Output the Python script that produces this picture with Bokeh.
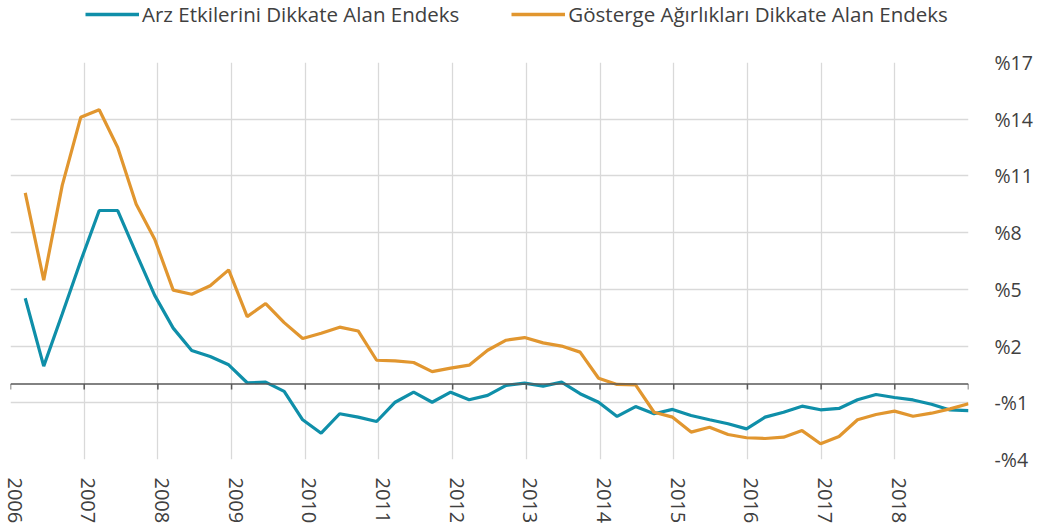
from bokeh.plotting import figure
from bokeh.models import (Legend, LegendItem, FixedTicker, Span, Range1d,
                          ColumnDataSource)
from bokeh.layouts import column
from bokeh.embed import file_html
from bokeh.resources import INLINE

# ---- data (quarterly, 2006Q1 .. 2018Q4) ----
quarters = [f"{y}Q{q}" for y in range(2006, 2019) for q in range(1, 5)]
arz = [4.53, 0.94, 3.70, 6.50, 9.17, 9.17, 6.90, 4.68,
       2.95, 1.77, 1.45, 1.01, 0.06, 0.09, -0.40, -1.90,
       -2.61, -1.58, -1.76, -1.99, -0.97, -0.44, -0.97, -0.44,
       -0.84, -0.61, -0.08, 0.04, -0.12, 0.09, -0.52, -0.97,
       -1.72, -1.20, -1.58, -1.35, -1.67, -1.90, -2.11, -2.38,
       -1.76, -1.50, -1.18, -1.37, -1.30, -0.84, -0.56, -0.72,
       -0.85, -1.08, -1.38, -1.41]
gosterge = [10.10, 5.49, 10.50, 14.10, 14.50, 12.50, 9.50, 7.65,
            4.96, 4.74, 5.19, 6.03, 3.56, 4.25, 3.24, 2.40,
            2.68, 3.00, 2.80, 1.25, 1.22, 1.13, 0.65, 0.83,
            0.99, 1.78, 2.31, 2.45, 2.17, 2.00, 1.68, 0.30,
            -0.03, -0.05, -1.50, -1.76, -2.55, -2.29, -2.68, -2.85,
            -2.89, -2.82, -2.47, -3.17, -2.78, -1.90, -1.62, -1.44,
            -1.71, -1.55, -1.32, -1.05]
series_names = ["Arz Etkilerini Dikkate Alan Endeks",
                "Gösterge Ağırlıkları Dikkate Alan Endeks"]
year_ticks = list(range(2006, 2020))
y_ticks = [-4, -1, 2, 5, 8, 11, 14, 17]
y_labels = ["-%4", "-%1", "%2", "%5", "%8", "%11", "%14", "%17"]

# quarter positions on a continuous year axis
n = len(quarters)
xpos = [2006.2 + i * (12.8 / (n - 1)) for i in range(n)]

FONT = "Open Sans"
TXT = "#404040"
GRID = "#D9D9D9"
TEAL = "#0F8FA9"
ORANGE = "#E1962F"

TOTAL_W = 1029
FRAME_W = 958

p = figure(frame_width=FRAME_W, frame_height=397,
           x_range=(2006, 2019), y_range=(-4, 17),
           output_backend="svg", toolbar_location=None,
           min_border_left=10, min_border_right=61,
           min_border_top=28, min_border_bottom=62,
           y_axis_location="right")
p.outline_line_color = None
p.background_fill_color = "white"
p.border_fill_color = "white"

# label range nudged a few pixels so year labels sit just right of their gridline
shift = 4 * 13 / FRAME_W
p.extra_x_ranges = {"lab": Range1d(2006 - shift, 2019 - shift)}

# grids
p.xgrid.ticker = FixedTicker(ticks=year_ticks)
p.ygrid.ticker = FixedTicker(ticks=y_ticks)
for g in (p.xgrid, p.ygrid):
    g.grid_line_color = GRID
    g.grid_line_width = 1.3

# x axis (labels at bottom)
xa = p.xaxis[0]
xa.x_range_name = "lab"
xa.ticker = FixedTicker(ticks=year_ticks)
xa.major_label_overrides = {2019: ""}
xa.axis_line_color = None
xa.major_tick_line_color = None
xa.minor_tick_line_color = None
xa.major_label_orientation = "vertical"
xa.major_label_standoff = 12
xa.major_label_text_font = FONT
xa.major_label_text_font_size = "20px"
xa.major_label_text_color = TXT

# y axis (right)
ya = p.yaxis[0]
ya.ticker = FixedTicker(ticks=y_ticks)
ya.major_label_overrides = {t: l for t, l in zip(y_ticks, y_labels)}
ya.axis_line_color = None
ya.major_tick_line_color = None
ya.minor_tick_line_color = None
ya.major_label_standoff = 20
ya.major_label_text_font = FONT
ya.major_label_text_font_size = "19.5px"
ya.major_label_text_color = TXT

# zero line + tick marks
p.add_layout(Span(location=0, dimension="width", line_color="#595959",
                  line_width=1.5))
p.segment(x0=year_ticks, x1=year_ticks, y0=[0] * len(year_ticks),
          y1=[-0.3] * len(year_ticks), line_color="#595959", line_width=1.5)

src = ColumnDataSource(dict(x=xpos, arz=arz, gos=gosterge))
p.line("x", "arz", source=src, line_color=TEAL, line_width=3.2)
p.line("x", "gos", source=src, line_color=ORANGE, line_width=3.2)

# ---- legend strip on top ----
lf = figure(width=TOTAL_W, height=34, x_range=(0, 1), y_range=(0, 1),
            output_backend="svg", toolbar_location=None,
            min_border=0, min_border_left=0, min_border_right=0,
            min_border_top=0, min_border_bottom=0)
lf.axis.visible = False
lf.grid.visible = False
lf.outline_line_color = None
lf.background_fill_color = "white"
lf.border_fill_color = "white"
# proxy lines lying outside the visible range, used only for the legend
d1 = lf.line([5, 6], [5, 6], line_color=TEAL, line_width=3.6)
d2 = lf.line([5, 6], [5, 6], line_color=ORANGE, line_width=3.6)
legend = Legend(items=[LegendItem(label=series_names[0], renderers=[d1]),
                       LegendItem(label=series_names[1], renderers=[d2])],
                orientation="horizontal", location=(75, 6),
                padding=0, margin=0, spacing=52, glyph_width=54,
                glyph_height=22, label_standoff=3, label_height=22,
                label_text_font=FONT, label_text_font_size="20.5px",
                label_text_color=TXT, border_line_color=None,
                background_fill_alpha=0)
lf.add_layout(legend, "center")

layout = column(lf, p, spacing=0)
open("out.html", "w").write(file_html(layout, INLINE))
